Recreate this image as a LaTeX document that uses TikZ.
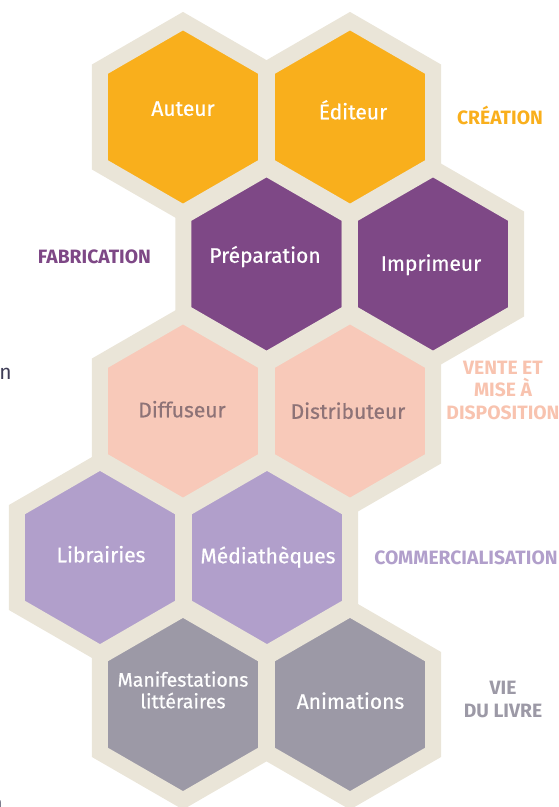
\documentclass[tikz,border=0pt]{standalone}
\usepackage{fontspec}
\setmainfont{Fira Sans}
\newfontfamily\cellfont{Fira Sans}[FakeBold=0.6]
\usetikzlibrary{shapes.geometric}

\definecolor{beige}{HTML}{EAE5D8}
\definecolor{creation}{HTML}{F9AF1C}
\definecolor{fabrication}{HTML}{7E4886}
\definecolor{vente}{HTML}{F8C9B9}
\definecolor{ventetext}{HTML}{F8C3AF}
\definecolor{diffusion}{HTML}{8E7377}
\definecolor{commerce}{HTML}{B19FCB}
\definecolor{vie}{HTML}{9C99A6}
\definecolor{stray}{HTML}{3F3D56}

\tikzset{
  cell/.style={regular polygon, regular polygon sides=6, shape border rotate=30,
    minimum size=191.7pt, inner sep=0pt, draw=beige, line width=16pt, fill=#1},
  celltext/.style={font=\cellfont\fontsize{21}{22}\selectfont, text=white, align=center,
    inner sep=0pt, text height=14.5pt, text depth=0pt},
  stage/.style={font=\fontsize{19.3}{22.5}\selectfont\bfseries, text=#1, align=center,
    inner sep=0pt, text height=13pt, text depth=0pt},
}

\begin{document}
\begin{tikzpicture}[x=1pt,y=-1pt]
  \useasboundingbox (0,0) rectangle (559,807);
  \clip (0,0) rectangle (559,807);

  % cells
  \node [cell=creation] (auteur) at (183,117) {};
  \node [cell=creation] (editeur) at (350,117) {};
  \node [cell=fabrication] (preparation) at (266.5,264) {};
  \node [cell=fabrication] (imprimeur) at (433,264) {};
  \node [cell=vente] (diffuseur) at (183,411) {};
  \node [cell=vente] (distributeur) at (350,411) {};
  \node [cell=commerce] (librairies) at (100,557.5) {};
  \node [cell=commerce] (mediatheques) at (267,557.5) {};
  \node [cell=vie] (manifestations) at (183,704.5) {};
  \node [cell=vie] (animations) at (350,704.5) {};

  % cell texts
  \node [celltext] (auteur-t) at (183,108.5) {Auteur};
  \node [celltext] (editeur-t) at (353,112) {Éditeur};
  \node [celltext] (preparation-t) at (265,255.5) {Préparation};
  \node [celltext] (imprimeur-t) at (431,263.5) {Imprimeur};
  \node [celltext, text=diffusion] (diffuseur-t) at (182,410) {Diffuseur};
  \node [celltext, text=diffusion] (distributeur-t) at (348,411.5) {Distributeur};
  \node [celltext] (librairies-t) at (101,555) {Librairies};
  \node [celltext] (mediatheques-t) at (268,556) {Médiathèques};
  \node [celltext, font=\cellfont\fontsize{19.5}{21.7}\selectfont] (manifestations-t) at (183,701) {Manifestations\\littéraires};
  \node [celltext] (animations-t) at (350.5,701.5) {Animations};

  % stages
  \node [stage=creation] (s-creation) at (500,117.5) {CRÉATION};
  \node [stage=fabrication] (s-fabrication) at (94.5,256.5) {FABRICATION};
  \node [stage=ventetext] (s-vente) at (503,412.5) {VENTE ET\\MISE À\\DISPOSITION};
  \node [stage=commerce] (s-commerce) at (466,557.8) {COMMERCIALISATION};
  \node [stage=vie] (s-vie) at (503,710.5) {VIE\\DU LIVRE};

  % cut-off text at the left edge
  \node [font=\fontsize{21}{22}\selectfont, text=stray, anchor=east, inner sep=0pt] (stray-a) at (12,374) {n};
  \node [font=\fontsize{21}{22}\selectfont, text=stray, anchor=east, inner sep=0pt] (stray-b) at (3,805) {n};
\end{tikzpicture}
\end{document}
